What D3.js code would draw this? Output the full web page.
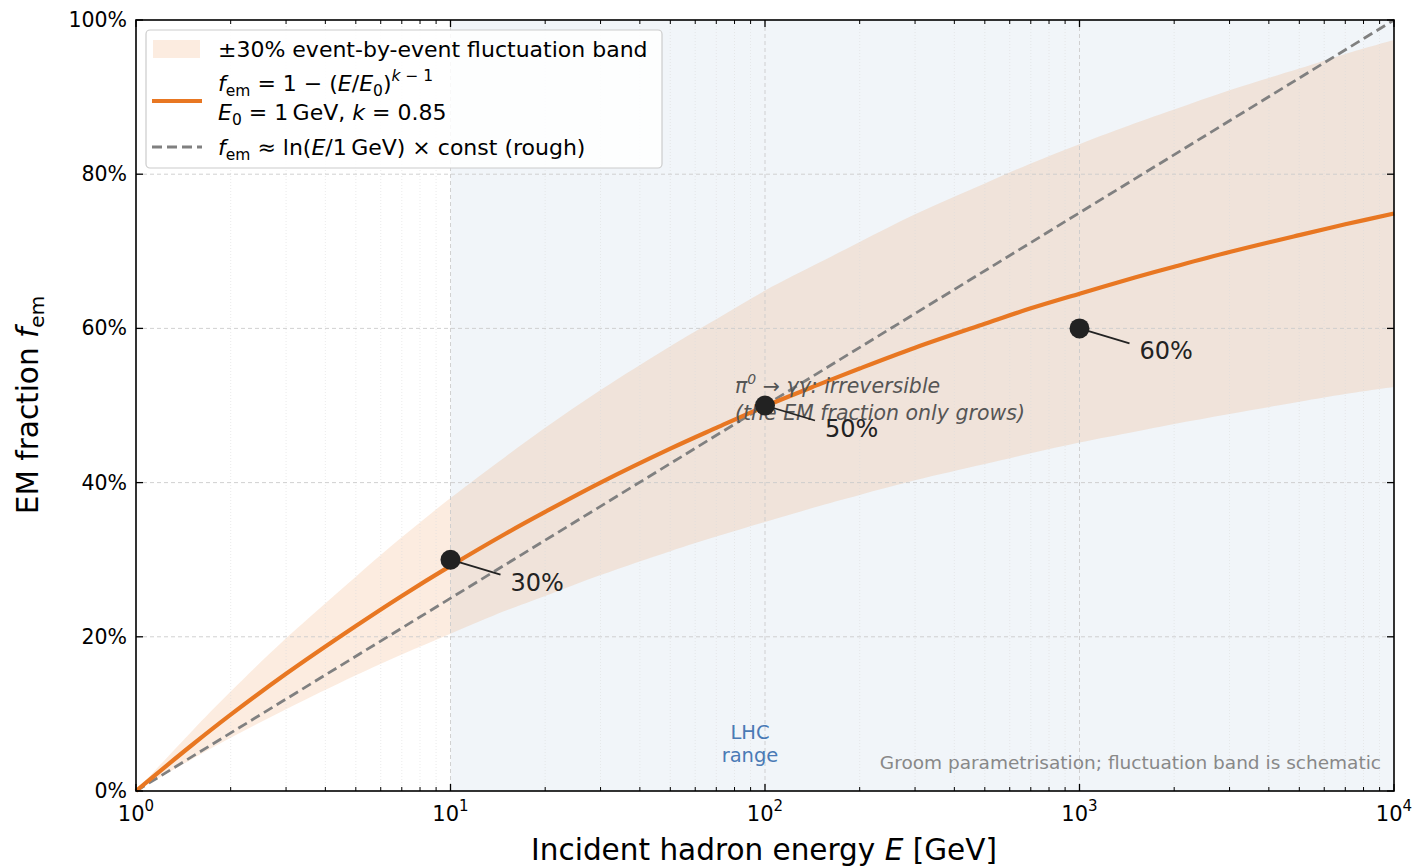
<!DOCTYPE html>
<html><head><meta charset="utf-8">
<script src="https://cdn.jsdelivr.net/npm/d3@7"></script>
<style>body{margin:0;background:#fff;} text{font-family:"DejaVu Sans",sans-serif;}</style>
</head><body><svg id="c" width="1416" height="867"></svg>
<script>
// ---- data ----
const energies = [1,1.5,2,3,5,7,10,15,20,30,50,70,100,150,200,300,500,700,1000,1500,2000,3000,5000,7000,10000];
const femCurve = [0,.059,.099,.152,.214,.253,.292,.334,.362,.400,.444,.471,.499,.528,.548,.575,.606,.626,.645,.666,.680,.699,.721,.735,.749];
const bandUpper = [0,.077,.129,.198,.278,.329,.380,.434,.471,.520,.577,.612,.649,.686,.712,.748,.788,.814,.839,.866,.884,.909,.937,.956,.974];
const bandLower = [0,.041,.069,.106,.150,.177,.204,.234,.253,.280,.311,.330,.349,.370,.384,.403,.424,.438,.452,.466,.476,.489,.505,.515,.524];
const roughE = [1,10000];
const roughF = [0,1.0];
const markerE = [10,100,1000];
const markerF = [0.30,0.50,0.60];
const markerLabels = ["30%","50%","60%"];
const xTickExps = [0,1,2,3,4];
const yTicks = [0,0.2,0.4,0.6,0.8,1.0];
const lhcRange = [10,10000];

const svg = d3.select("#c");
const L=136,R=1394,T=20,B=791;
const x = d3.scaleLog().domain([1,10000]).range([L,R]);
const y = d3.scaleLinear().domain([0,1]).range([B,T]);

// LHC shading
svg.append("rect").attr("x",x(lhcRange[0])).attr("y",T).attr("width",x(lhcRange[1])-x(lhcRange[0])).attr("height",B-T).attr("fill","#f1f5f9");

// band
const bandData = energies.map((e,i)=>({e,u:bandUpper[i],l:bandLower[i]}));
svg.append("path").datum(bandData)
  .attr("d",d3.area().x(d=>x(d.e)).y0(d=>y(d.l)).y1(d=>y(d.u)).curve(d3.curveCatmullRom))
  .attr("fill","#e87722").attr("fill-opacity",0.14);

// grid
const minorVals=[];
for(let d=0;d<4;d++) for(let m=2;m<=9;m++) minorVals.push(m*Math.pow(10,d));
const g = svg.append("g");
g.selectAll(".mn").data(minorVals).enter().append("line")
  .attr("x1",d=>x(d)).attr("x2",d=>x(d)).attr("y1",T).attr("y2",B)
  .attr("stroke","#dcdcdc").attr("stroke-width",0.7).attr("stroke-dasharray","1,2").attr("opacity",0.8);
g.selectAll(".mj").data(xTickExps.slice(1,4)).enter().append("line")
  .attr("x1",d=>x(Math.pow(10,d))).attr("x2",d=>x(Math.pow(10,d))).attr("y1",T).attr("y2",B)
  .attr("stroke","#cccccc").attr("stroke-width",0.9).attr("stroke-dasharray","4,3");
g.selectAll(".hy").data(yTicks.slice(1,5)).enter().append("line")
  .attr("x1",L).attr("x2",R).attr("y1",d=>y(d)).attr("y2",d=>y(d))
  .attr("stroke","#cccccc").attr("stroke-width",0.9).attr("stroke-dasharray","4,3");

// rough dashed line
svg.append("path").datum(roughE.map((e,i)=>[e,roughF[i]]))
  .attr("d",d3.line().x(d=>x(d[0])).y(d=>y(d[1])))
  .attr("fill","none").attr("stroke","#808080").attr("stroke-width",2.8).attr("stroke-dasharray","10,5");

// curve
svg.append("path").datum(energies.map((e,i)=>[e,femCurve[i]]))
  .attr("d",d3.line().x(d=>x(d[0])).y(d=>y(d[1])).curve(d3.curveCatmullRom))
  .attr("fill","none").attr("stroke","#e87722").attr("stroke-width",4.2);

// annotation text pi0
const ann = svg.append("text").attr("x",735).attr("y",393).attr("font-size",20.5).attr("font-style","italic").attr("fill","#555");
ann.append("tspan").text("π");
ann.append("tspan").attr("font-size",14).attr("dy",-9).text("0");
ann.append("tspan").attr("dy",9).text(" → γγ: irreversible");
svg.append("text").attr("x",735).attr("y",420).attr("font-size",20.5).attr("font-style","italic").attr("fill","#555").text("(the EM fraction only grows)");

// markers + labels
markerE.forEach((e,i)=>{
  const mx=x(e), my=y(markerF[i]);
  svg.append("line").attr("x1",mx).attr("y1",my).attr("x2",mx+50).attr("y2",my+15).attr("stroke","#222").attr("stroke-width",1.8);
  svg.append("circle").attr("cx",mx).attr("cy",my).attr("r",10).attr("fill","#222");
  svg.append("text").attr("x",mx+60).attr("y",my+31).attr("font-size",24).attr("fill","#222").text(markerLabels[i]);
});

// LHC label
svg.append("text").attr("x",750).attr("y",739).attr("text-anchor","middle").attr("font-size",19.5).attr("fill","#4a7ab5").text("LHC");
svg.append("text").attr("x",750).attr("y",762).attr("text-anchor","middle").attr("font-size",19.5).attr("fill","#4a7ab5").text("range");
svg.append("text").attr("x",1381).attr("y",769).attr("text-anchor","end").attr("font-size",18.5).attr("fill","#888").text("Groom parametrisation; fluctuation band is schematic");

// axes frame
svg.append("rect").attr("x",L).attr("y",T).attr("width",R-L).attr("height",B-T).attr("fill","none").attr("stroke","#000").attr("stroke-width",1.6);

// ticks (inward)
const majX = xTickExps.map(d=>Math.pow(10,d));
[[B,-1],[T,1]].forEach(([yy,dir])=>{
  svg.selectAll(null).data(majX).enter().append("line").attr("x1",d=>x(d)).attr("x2",d=>x(d)).attr("y1",yy).attr("y2",yy+dir*7).attr("stroke","#000").attr("stroke-width",1.3);
  svg.selectAll(null).data(minorVals).enter().append("line").attr("x1",d=>x(d)).attr("x2",d=>x(d)).attr("y1",yy).attr("y2",yy+dir*4).attr("stroke","#000").attr("stroke-width",1);
});
[[L,1],[R,-1]].forEach(([xx,dir])=>{
  svg.selectAll(null).data(yTicks).enter().append("line").attr("x1",xx).attr("x2",xx+dir*7).attr("y1",d=>y(d)).attr("y2",d=>y(d)).attr("stroke","#000").attr("stroke-width",1.3);
});

// tick labels
xTickExps.forEach(p=>{
  const t=svg.append("text").attr("x",x(Math.pow(10,p))).attr("y",821).attr("text-anchor","middle").attr("font-size",21).attr("fill","#000");
  t.append("tspan").text("10");
  t.append("tspan").attr("font-size",15).attr("dy",-10).text(p);
});
yTicks.forEach(v=>{
  svg.append("text").attr("x",127).attr("y",y(v)+7).attr("text-anchor","end").attr("font-size",20.5).attr("fill","#000").text(d3.format(".0%")(v));
});

// axis labels
const xl=svg.append("text").attr("x",764).attr("y",860).attr("text-anchor","middle").attr("font-size",29.5).attr("fill","#000");
xl.append("tspan").text("Incident hadron energy ");
xl.append("tspan").attr("font-style","italic").text("E");
xl.append("tspan").text(" [GeV]");
const yl=svg.append("text").attr("transform","translate(38,405) rotate(-90)").attr("text-anchor","middle").attr("font-size",29.5).attr("fill","#000");
yl.append("tspan").text("EM fraction ");
yl.append("tspan").attr("font-style","italic").text("f");
yl.append("tspan").attr("font-size",20).attr("dy",6).text("em");

// legend
const lg=svg.append("g");
lg.append("rect").attr("x",146).attr("y",30).attr("width",516).attr("height",138).attr("rx",4).attr("fill","#fff").attr("fill-opacity",0.85).attr("stroke","#ccc").attr("stroke-width",1.2);
lg.append("rect").attr("x",153).attr("y",40).attr("width",47).attr("height",18).attr("fill","#e87722").attr("fill-opacity",0.14);
lg.append("text").attr("x",218).attr("y",57).attr("font-size",22).text("±30% event-by-event fluctuation band");
lg.append("line").attr("x1",152).attr("x2",202).attr("y1",101).attr("y2",101).attr("stroke","#e87722").attr("stroke-width",4.2);
const l2=lg.append("text").attr("x",218).attr("y",91).attr("font-size",22);
l2.append("tspan").attr("font-style","italic").text("f");
l2.append("tspan").attr("font-size",15.5).attr("dy",5).text("em");
l2.append("tspan").attr("dy",-5).text(" = 1 − (");
l2.append("tspan").attr("font-style","italic").text("E");
l2.append("tspan").text("/");
l2.append("tspan").attr("font-style","italic").text("E");
l2.append("tspan").attr("font-size",15.5).attr("dy",5).text("0");
l2.append("tspan").attr("dy",-5).text(")");
l2.append("tspan").attr("font-size",15.5).attr("dy",-10).attr("font-style","italic").text("k");
l2.append("tspan").attr("font-size",15.5).text(" − 1");
const l3=lg.append("text").attr("x",218).attr("y",120).attr("font-size",22);
l3.append("tspan").attr("font-style","italic").text("E");
l3.append("tspan").attr("font-size",15.5).attr("dy",5).text("0");
l3.append("tspan").attr("dy",-5).text(" = 1\u2009GeV,  ");
l3.append("tspan").attr("font-style","italic").text("k");
l3.append("tspan").text(" = 0.85");
lg.append("line").attr("x1",152).attr("x2",202).attr("y1",147).attr("y2",147).attr("stroke","#808080").attr("stroke-width",2.8).attr("stroke-dasharray","10,5");
const l4=lg.append("text").attr("x",218).attr("y",155).attr("font-size",22);
l4.append("tspan").attr("font-style","italic").text("f");
l4.append("tspan").attr("font-size",15.5).attr("dy",5).text("em");
l4.append("tspan").attr("dy",-5).text(" ≈ ln(");
l4.append("tspan").attr("font-style","italic").text("E");
l4.append("tspan").text("/1\u2009GeV) × const  (rough)");
</script></body></html>
